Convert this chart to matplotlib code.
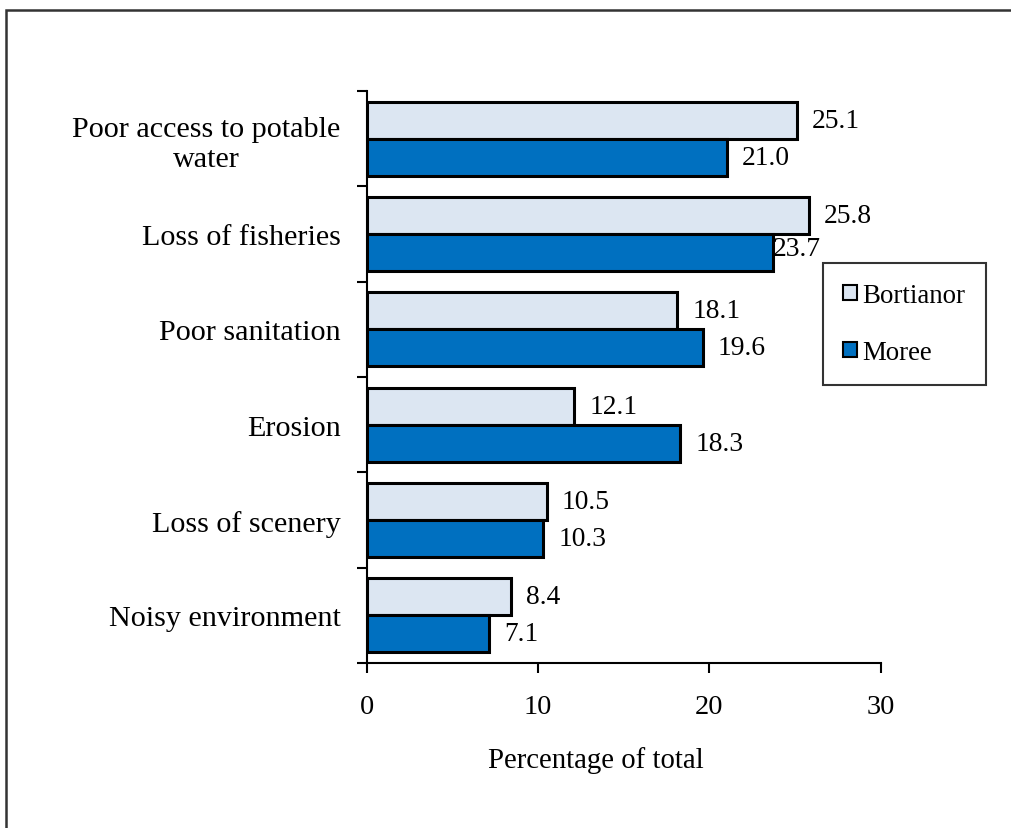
import matplotlib
matplotlib.use("Agg")
import matplotlib.pyplot as plt
from matplotlib.patches import Rectangle
import numpy as np

categories = ["Poor access to potable\nwater", "Loss of fisheries", "Poor sanitation",
              "Erosion", "Loss of scenery", "Noisy environment"]
bortianor = [25.1, 25.8, 18.1, 12.1, 10.5, 8.4]
moree = [21.0, 23.7, 19.6, 18.3, 10.3, 7.1]
series_names = ["Bortianor", "Moree"]
x_ticks = [0, 10, 20, 30]

plt.rcParams["font.family"] = ["Liberation Serif", "DejaVu Serif"]

fig = plt.figure(figsize=(10.11, 8.29), dpi=100)
ax = fig.add_axes([0.363, 0.199, 0.508, 0.690])

n = len(categories)
centers = np.arange(n)[::-1].astype(float)
h = 0.388
off = 0.194

b1 = ax.barh(centers + off, bortianor, height=h, color="#DCE6F2",
             edgecolor="black", linewidth=2.2, label=series_names[0])
b2 = ax.barh(centers - off, moree, height=h, color="#0070C0",
             edgecolor="black", linewidth=2.2, label=series_names[1])

# value labels just past the end of each bar
for bars, vals in ((b1, bortianor), (b2, moree)):
    for rect, v in zip(bars, vals):
        dx, dy = 11, 0
        if v == 23.7:
            dx, dy = 0, 3
        ax.annotate(f"{v:.1f}", (v, rect.get_y() + rect.get_height() / 2),
                    xytext=(dx, dy), textcoords="offset points",
                    ha="left", va="center", fontsize=19.8, color="black")

ax.set_xlim(0, 30)
ax.set_ylim(-0.5, n - 0.5)
ax.set_xticks(x_ticks)
ax.set_xticklabels([str(t) for t in x_ticks], fontsize=20.5)
ax.tick_params(axis="x", direction="out", length=7, width=1.5, pad=15)

ax.set_yticks(centers)
ax.set_yticklabels(categories, fontsize=21.7, multialignment="center")
ax.tick_params(axis="y", which="major", length=0, pad=19)
ax.set_yticks(np.arange(n + 1) - 0.5, minor=True)
ax.tick_params(axis="y", which="minor", direction="out", length=7, width=1.5)

for s in ("top", "right"):
    ax.spines[s].set_visible(False)
for s in ("left", "bottom"):
    ax.spines[s].set_linewidth(1.5)

ax.set_xlabel("Percentage of total", fontsize=20.7)
ax.xaxis.set_label_coords(0.4455, -0.1455)

leg = ax.legend(loc="upper left", bbox_to_anchor=(0.814, 0.6815),
                bbox_transform=fig.transFigure, borderaxespad=0,
                fontsize=19.4, frameon=True, fancybox=False, edgecolor="black",
                handlelength=0.5, handleheight=0.5, handletextpad=0.22,
                labelspacing=1.18, borderpad=0.75)
leg.get_frame().set_linewidth(1.5)
for p in leg.get_patches():
    p.set_linewidth(1.5)

# outer frame around the chart area
fig.add_artist(Rectangle((0.006, -0.05), 1.2, 0.9867 + 0.05, transform=fig.transFigure,
                         fill=False, edgecolor="#333333", linewidth=1.8))

fig.savefig("out.png", dpi=100)
